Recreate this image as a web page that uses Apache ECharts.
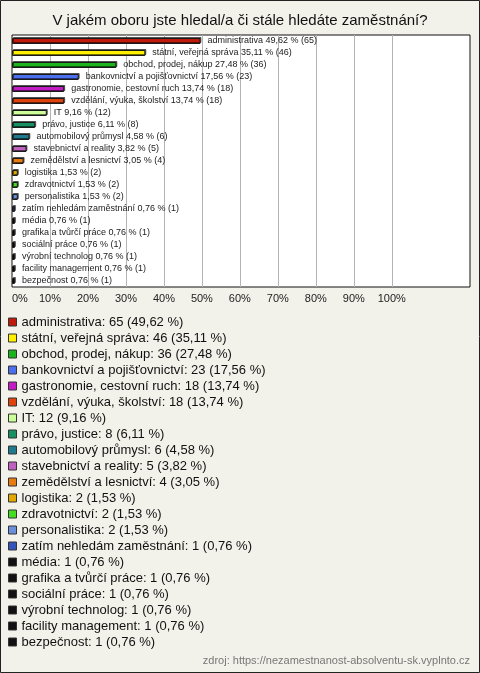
<!DOCTYPE html>
<html>
<head>
<meta charset="utf-8">
<script src="https://cdn.jsdelivr.net/npm/echarts@6/dist/echarts.min.js"></script>
<style>
html,body{margin:0;padding:0;background:#f3f2ea;}
#c{width:480px;height:673px;}
</style>
</head>
<body>
<div id="c"></div>
<script>
const categories = ["administrativa","státní, veřejná správa","obchod, prodej, nákup","bankovnictví a pojišťovnictví","gastronomie, cestovní ruch","vzdělání, výuka, školství","IT","právo, justice","automobilový průmysl","stavebnictví a reality","zemědělství a lesnictví","logistika","zdravotnictví","personalistika","zatím nehledám zaměstnání","média","grafika a tvůrčí práce","sociální práce","výrobní technolog","facility management","bezpečnost"];
const counts = [65,46,36,23,18,18,12,8,6,5,4,2,2,2,1,1,1,1,1,1,1];
const percents = [49.62,35.11,27.48,17.56,13.74,13.74,9.16,6.11,4.58,3.82,3.05,1.53,1.53,1.53,0.76,0.76,0.76,0.76,0.76,0.76,0.76];
const colors = ["#c01a0c","#fff000","#1cb41c","#4a70f0","#c41cc4","#e0420e","#ccff99","#189064","#1e7a8c","#c060c0","#e87c10","#e0a800","#44dd22","#6a90dd","#3355bb","#111111","#111111","#111111","#111111","#111111","#111111"];
const xTicks = [0,10,20,30,40,50,60,70,80,90,100];

const fmt = v => v.toFixed(2).replace('.', ',');
const chart = echarts.init(document.getElementById('c'));
const FONT = '"Liberation Sans", Arial, sans-serif';

const series = categories.map((name, i) => ({
  name: name,
  type: 'bar',
  stack: 'all',
  barWidth: 6,
  z: 5,
  data: categories.map((_, j) => j === i ? percents[i] : '-'),
  itemStyle: {color: colors[i], borderColor: '#1a1a1a', borderWidth: 1,
    shadowColor: 'rgba(0,0,0,0.55)', shadowOffsetX: 1, shadowOffsetY: -1, shadowBlur: 0},
  label: {
    show: true, position: 'right', distance: 7,
    fontSize: 9, fontFamily: FONT, color: '#222',
    formatter: () => name + ' ' + fmt(percents[i]) + ' % (' + counts[i] + ')'
  },
  emphasis: {disabled: true}
}));

series.unshift({
  name: '_grid', type: 'line', data: [], z: 1, silent: true,
  markLine: {
    silent: true, symbol: 'none', animation: false, z: 1,
    label: {show: false},
    lineStyle: {color: '#b4b4b4', width: 1, type: 'solid'},
    data: xTicks.filter(v => v > 0).map(v => ({xAxis: v}))
  }
});

chart.setOption({
  animation: false,
  backgroundColor: '#f3f2ea',
  title: {
    text: 'V jakém oboru jste hledal/a či stále hledáte zaměstnání?',
    left: 'center', top: 8,
    textStyle: {fontSize: 15, fontWeight: 'normal', color: '#111', fontFamily: FONT}
  },
  graphic: [
    {type: 'rect', shape: {x: 0.5, y: 0.5, width: 479, height: 672}, style: {fill: 'none', stroke: '#222', lineWidth: 1}, z: 100},
    {type: 'text', right: 10, top: 655, style: {text: 'zdroj: https://nezamestnanost-absolventu-sk.vyplnto.cz', fontSize: 11, fill: '#777', fontFamily: FONT}}
  ],
  grid: {left: 12, top: 35, right: 10, bottom: 386, show: true, backgroundColor: '#fff', borderColor: '#111', borderWidth: 1, containLabel: false},
  xAxis: {
    type: 'value', min: 0, max: 120.6, interval: 10,
    splitLine: {show: false}, axisLine: {show: false}, axisTick: {show: false},
    axisLabel: {
      fontSize: 11, fontFamily: FONT, color: '#222', margin: 6, alignMinLabel: 'left',
      formatter: v => (v <= 100 ? v + '%' : '')
    }
  },
  yAxis: {
    type: 'category', data: categories, inverse: true,
    axisLine: {show: false}, axisTick: {show: false}, axisLabel: {show: false}, splitLine: {show: false}
  },
  legend: {
    orient: 'vertical', left: 8, top: 314, padding: 0,
    itemWidth: 8, itemHeight: 8, itemGap: 0,
    icon: 'rect',
    selectedMode: false,
    itemStyle: {borderColor: '#333', borderWidth: 1},
    textStyle: {fontSize: 13, fontFamily: FONT, color: '#111', lineHeight: 16},
    formatter: name => {
      const i = categories.indexOf(name);
      return name + ': ' + counts[i] + ' (' + fmt(percents[i]) + ' %)';
    },
    data: categories
  },
  series: series
});
</script>
</body>
</html>
